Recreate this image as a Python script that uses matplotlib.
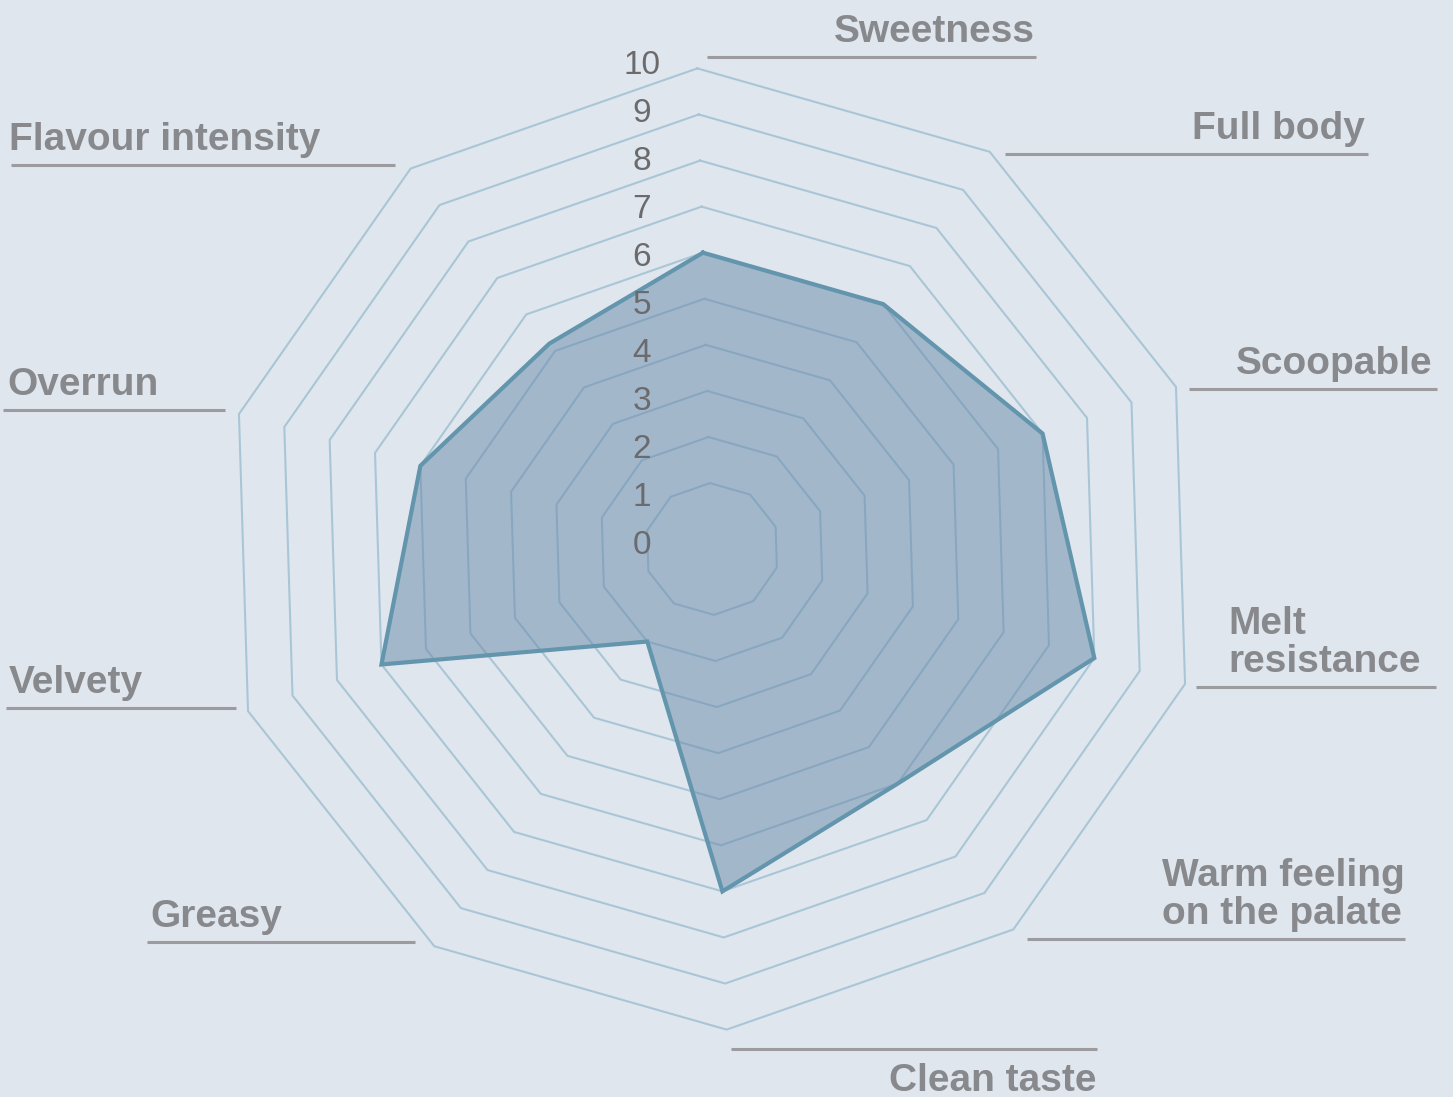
import matplotlib

matplotlib.use("Agg")

import matplotlib.pyplot as plt
import numpy as np

# attribute scores, clockwise from the top spoke
attributes = [
    "Sweetness",
    "Full body",
    "Scoopable",
    "Melt\nresistance",
    "Warm feeling\non the palate",
    "Clean taste",
    "Greasy",
    "Velvety",
    "Overrun",
    "Flavour intensity",
]
scores = [6, 6, 7, 8, 6, 7, 2, 7, 6, 5.2]
ring_values = [1, 2, 3, 4, 5, 6, 7, 8, 9, 10]
tick_values = [0, 1, 2, 3, 4, 5, 6, 7, 8, 9, 10]

# layout (pixels)
W, H = 1453, 1097
CX, CY = 712, 549
S = 46.1  # pixels per unit
R0 = 0.43  # radius of value 0
ROT = 1.7  # the chart is slightly tilted
XSTRETCH = 1.025

# label side, gap from outer vertex, underline length, vertical shift, text pad
label_layout = [
    ("right", 10, 329, -11, 2),
    ("right", 15, 363, 2, 3),
    ("right", 13, 248, 2, 4),
    ("right", 11, 240, 3, 15),
    ("right", 14, 378, 10, 1),
    ("below", 4, 366, 19, 0),
    ("left", 19, 268, -4, 3),
    ("left", 12, 230, -3, 3),
    ("left", 14, 222, -4, 4),
    ("left", 16, 384, -4, -2),
]

BG = "#e0e6ee"
GRID = "#a9c6d6"
FILL = "#688aaa"
EDGE = "#6395ad"
LABEL = "#88898d"
TICK = "#6b6b6d"
RULE = "#9c9ca0"


def to_xy(value, idx):
    theta = np.deg2rad(90 + ROT - 36 * np.asarray(idx))
    r = np.asarray(value) + R0
    return r * np.cos(theta) * XSTRETCH, r * np.sin(theta)


fig = plt.figure(figsize=(W / 100, H / 100), dpi=100)
fig.patch.set_facecolor(BG)
ax = fig.add_axes([0, 0, 1, 1])
ax.set_facecolor(BG)
ax.set_xlim(-CX / S, (W - CX) / S)
ax.set_ylim(-(H - CY) / S, CY / S)
ax.axis("off")

n = len(attributes)
idx = np.arange(n + 1) % n

for v in ring_values:
    x, y = to_xy(np.full(n + 1, v), idx)
    ax.plot(x, y, color=GRID, linewidth=1.5, zorder=1)

x, y = to_xy(np.array(scores)[idx], idx)
ax.fill(x, y, color=FILL, alpha=0.5, linewidth=0, zorder=2)
ax.plot(x, y, color=EDGE, linewidth=3.0, solid_joinstyle="miter", zorder=3)

for v in tick_values:
    ax.text(-70 / S, (3 + 48 * v) / S, str(v), ha="center", va="center",
            fontsize=24, color=TICK, family="Liberation Sans", zorder=4)

for i, (name, (side, gap, length, dy, pad)) in enumerate(zip(attributes, label_layout)):
    vx, vy = to_xy(10, i)
    ly = vy - dy / S
    if side == "left":
        x1 = vx - gap / S
        x0 = x1 - length / S
        tx, ha = x0 + pad / S, "left"
    else:
        x0 = vx + gap / S
        x1 = x0 + length / S
        tx, ha = x1 - pad / S, "right"
    ax.plot([x0, x1], [ly, ly], color=RULE, linewidth=2.2, solid_capstyle="butt", zorder=4)
    ty = ly - 42 / S if side == "below" else ly + 15 / S
    ax.text(tx, ty, name, ha=ha, va="baseline", multialignment="left",
            fontsize=28, fontweight="bold", color=LABEL,
            family="Liberation Sans", linespacing=1.08, zorder=4)

fig.savefig("out.png", dpi=100, facecolor=BG)
